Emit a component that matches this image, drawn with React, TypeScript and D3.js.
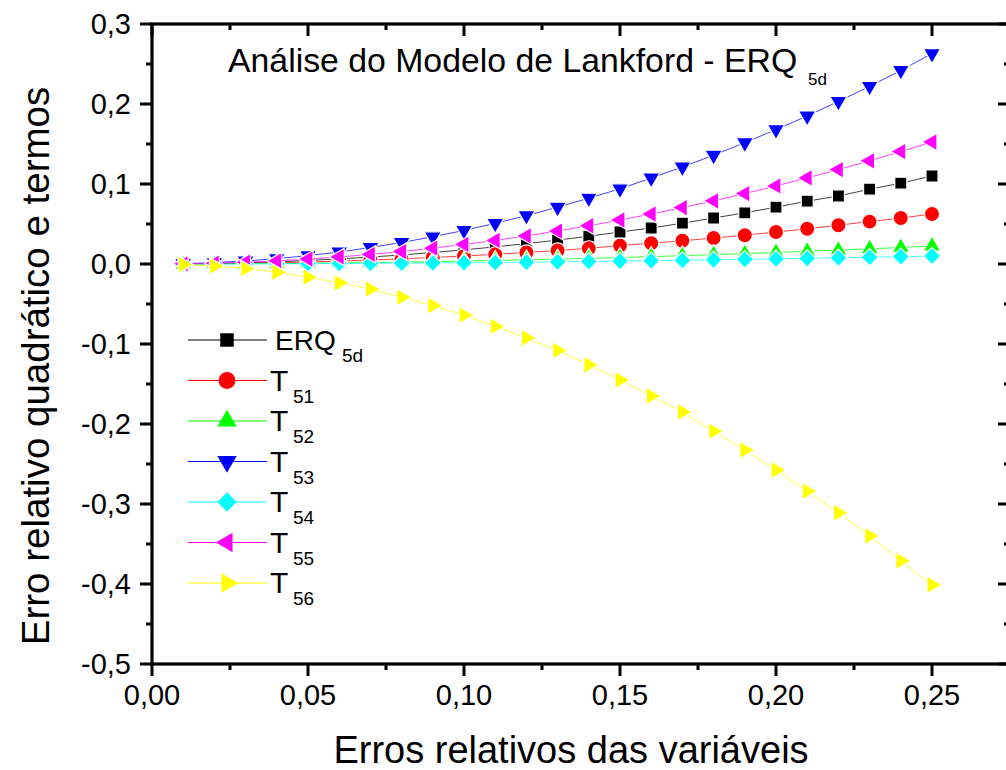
import React from 'react';
import * as d3 from 'd3';

// erros relativos das variáveis
const xs = [
  0.01, 0.02, 0.03, 0.04, 0.05, 0.06, 0.07, 0.08, 0.09, 0.1, 0.11, 0.12, 0.13,
  0.14, 0.15, 0.16, 0.17, 0.18, 0.19, 0.2, 0.21, 0.22, 0.23, 0.24, 0.25,
];

const erq5d = [
  0.0002, 0.0007, 0.0016, 0.0028, 0.0044, 0.0064, 0.0087, 0.0113, 0.0143, 0.0177,
  0.0214, 0.0255, 0.0299, 0.0347, 0.04, 0.045, 0.051, 0.0575, 0.064, 0.071,
  0.0785, 0.085, 0.0935, 0.101, 0.11,
];
const t51 = [
  0.0001, 0.0004, 0.0009, 0.0016, 0.0025, 0.0036, 0.0049, 0.0064, 0.0081, 0.01,
  0.0121, 0.0144, 0.0169, 0.0196, 0.023, 0.026, 0.029, 0.0325, 0.036, 0.04,
  0.044, 0.0485, 0.053, 0.0575, 0.0625,
];
const t52 = [
  0.0, 0.0001, 0.0003, 0.0006, 0.0009, 0.0013, 0.0018, 0.0023, 0.0029, 0.0036,
  0.0044, 0.0052, 0.0061, 0.0071, 0.0081, 0.0092, 0.0104, 0.0117, 0.013, 0.0144,
  0.0159, 0.0174, 0.019, 0.0207, 0.0225,
];
const t53 = [
  0.0004, 0.0017, 0.0038, 0.0067, 0.0105, 0.015, 0.0206, 0.0269, 0.034, 0.042,
  0.0508, 0.0605, 0.071, 0.0823, 0.094, 0.1075, 0.1213, 0.136, 0.1516, 0.168,
  0.185, 0.2033, 0.222, 0.242, 0.263,
];
const t54 = [
  0.0, 0.0001, 0.0001, 0.0003, 0.0004, 0.0006, 0.0008, 0.001, 0.0013, 0.0016,
  0.0019, 0.0023, 0.0027, 0.0031, 0.0036, 0.0041, 0.0046, 0.0052, 0.0058, 0.0064,
  0.0071, 0.0077, 0.0085, 0.0092, 0.01,
];
const t55 = [
  0.0002, 0.001, 0.0022, 0.0039, 0.0061, 0.0088, 0.012, 0.0156, 0.0198, 0.0244,
  0.0295, 0.0351, 0.0412, 0.0478, 0.055, 0.0625, 0.0705, 0.079, 0.088, 0.0976,
  0.1076, 0.118, 0.129, 0.1405, 0.1525,
];
const t56 = [
  -0.0006, -0.0026, -0.0058, -0.0103, -0.0165, -0.0235, -0.0315, -0.0415, -0.052,
  -0.064, -0.078, -0.0925, -0.108, -0.126, -0.145, -0.165, -0.185, -0.209, -0.2325,
  -0.2575, -0.284, -0.311, -0.34, -0.371, -0.401,
];

const seriesNames = ['ERQ', 'T', 'T', 'T', 'T', 'T', 'T'];
const seriesSubs = ['5d', '51', '52', '53', '54', '55', '56'];
const seriesValues = [erq5d, t51, t52, t53, t54, t55, t56];
const seriesColors = ['#000000', '#ff0000', '#00ff00', '#0000ff', '#00ffff', '#ff00ff', '#ffff00'];
const seriesShapes = ['square', 'circle', 'up', 'down', 'diamond', 'left', 'right'];

const xTicks = [0, 0.05, 0.1, 0.15, 0.2, 0.25];
const xMinor = [0.025, 0.075, 0.125, 0.175, 0.225];
const yTicks = [0.3, 0.2, 0.1, 0, -0.1, -0.2, -0.3, -0.4, -0.5];
const yMinor = [0.25, 0.15, 0.05, -0.05, -0.15, -0.25, -0.35, -0.45];

const FONT = 'Arial, "Liberation Sans", sans-serif';

const fmt = (v: number, d: number) => {
  const s = Math.abs(v) < 1e-9 ? (0).toFixed(d) : v.toFixed(d);
  return s.replace('.', ',');
};

// forma do símbolo -> caminho
const markerPath = (shape: string, big: boolean) => {
  const k = big ? 1.25 : 1;
  switch (shape) {
    case 'square':
      return { d: d3.symbol(d3.symbolSquare, 145 * k)()!, rot: 0 };
    case 'circle':
      return { d: d3.symbol(d3.symbolCircle, 180 * k)()!, rot: 0 };
    case 'diamond':
      return { d: d3.symbol(d3.symbolSquare, 150 * k)()!, rot: 45 };
    case 'up':
      return { d: d3.symbol(d3.symbolTriangle, 130 * k)()!, rot: 0 };
    case 'down':
      return { d: d3.symbol(d3.symbolTriangle, 130 * k)()!, rot: 180 };
    case 'left':
      return { d: d3.symbol(d3.symbolTriangle, 130 * k)()!, rot: -90 };
    default:
      return { d: d3.symbol(d3.symbolTriangle, 130 * k)()!, rot: 90 };
  }
};

export default function App() {
  const W = 1006;
  const H = 770;
  const left = 152;
  const right = 1010;
  const top = 24;
  const bottom = 664;

  const x = d3.scaleLinear().domain([0, 0.275]).range([left, right]);
  const y = d3.scaleLinear().domain([-0.5, 0.3]).range([bottom, top]);

  const line = d3
    .line<number>()
    .x((_, i) => x(xs[i]))
    .y((v) => y(v));

  const legendX = 188;
  const legendY0 = 340;
  const legendStep = 40.5;

  return (
    <svg
      width={W}
      height={H}
      style={{ position: 'absolute', left: 0, top: 0, background: '#fff' }}
      fontFamily={FONT}
    >
      {/* séries */}
      {seriesValues.map((vals, si) => (
        <g key={si}>
          <path d={line(vals)!} fill="none" stroke={seriesColors[si]} strokeWidth={1} strokeOpacity={0.75} />
          {vals.map((v, i) => {
            const m = markerPath(seriesShapes[si], false);
            return (
              <path
                key={i}
                d={m.d}
                transform={`translate(${x(xs[i])},${y(v)}) rotate(${m.rot})`}
                fill={seriesColors[si]}
                stroke="#fff"
                strokeWidth={1.2}
              />
            );
          })}
        </g>
      ))}

      {/* moldura */}
      <rect x={left} y={top} width={right - left} height={bottom - top} fill="none" stroke="#000" strokeWidth={3.2} />

      {/* eixo x: baixo (para fora) e topo (para dentro) */}
      {xTicks.map((t) => (
        <g key={'xt' + t}>
          <line x1={x(t)} x2={x(t)} y1={bottom} y2={bottom + 12} stroke="#000" strokeWidth={3} />
          <line x1={x(t)} x2={x(t)} y1={top} y2={top + 12} stroke="#000" strokeWidth={3} />
          <text x={x(t)} y={705} textAnchor="middle" fontSize={29} fill="#000">
            {fmt(t, 2)}
          </text>
        </g>
      ))}
      {xMinor.map((t) => (
        <g key={'xm' + t}>
          <line x1={x(t)} x2={x(t)} y1={bottom} y2={bottom + 6} stroke="#000" strokeWidth={3} />
          <line x1={x(t)} x2={x(t)} y1={top} y2={top + 6} stroke="#000" strokeWidth={3} />
        </g>
      ))}

      {/* eixo y: esquerda (para fora) e direita (para dentro) */}
      {yTicks.map((t) => (
        <g key={'yt' + t}>
          <line x1={left - 12} x2={left} y1={y(t)} y2={y(t)} stroke="#000" strokeWidth={3} />
          <line x1={right - 12} x2={right} y1={y(t)} y2={y(t)} stroke="#000" strokeWidth={3} />
          <text x={131} y={y(t)} dy="0.36em" textAnchor="end" fontSize={29} fill="#000">
            {fmt(t, 1)}
          </text>
        </g>
      ))}
      {yMinor.map((t) => (
        <g key={'ym' + t}>
          <line x1={left - 6} x2={left} y1={y(t)} y2={y(t)} stroke="#000" strokeWidth={3} />
          <line x1={right - 6} x2={right} y1={y(t)} y2={y(t)} stroke="#000" strokeWidth={3} />
        </g>
      ))}

      {/* títulos dos eixos */}
      <text x={571} y={763} textAnchor="middle" fontSize={38} fill="#000">
        Erros relativos das variáveis
      </text>
      <text transform="translate(49,366) rotate(-90)" textAnchor="middle" fontSize={38.5} fill="#000">
        Erro relativo quadrático e termos
      </text>

      {/* título interno */}
      <text x={228} y={72} fontSize={33.8} fill="#000">
        Análise do Modelo de Lankford - ERQ
      </text>
      <text x={808} y={85} fontSize={17} fill="#000">
        5d
      </text>

      {/* legenda */}
      {seriesNames.map((name, si) => {
        const ly = legendY0 + si * legendStep;
        const m = markerPath(seriesShapes[si], true);
        const isErq = si === 0;
        return (
          <g key={'lg' + si}>
            <line x1={legendX} x2={legendX + 79} y1={ly} y2={ly} stroke={seriesColors[si]} strokeWidth={1} />
            <path d={m.d} transform={`translate(${legendX + 39},${ly}) rotate(${m.rot})`} fill={seriesColors[si]} />
            <text x={isErq ? 275 : 270} y={ly + 10} fontSize={isErq ? 28 : 30} fill="#000">
              {name}
            </text>
            <text x={isErq ? 342 : 293} y={ly + 22} fontSize={19} fill="#000">
              {seriesSubs[si]}
            </text>
          </g>
        );
      })}
    </svg>
  );
}
